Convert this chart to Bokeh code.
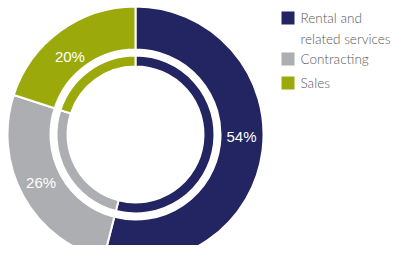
import math
from bokeh.plotting import figure
from bokeh.models import Range1d, ColumnDataSource
from bokeh.core.properties import value
from bokeh.embed import file_html
from bokeh.resources import INLINE

# ---- data ----
categories = ["Rental and\nrelated services", "Contracting", "Sales"]
shares = [54, 26, 20]
pct_labels = ["54%", "26%", "20%"]
colors = ["#232562", "#ADAEB1", "#9BAA0A"]

# ---- layout constants ----
W, H = 395, 245
cx, cy = 135, -134
outer_r = (85, 128)
inner_r = (68, 79)
label_angle = [-1, 207, 130]
label_radius = [106, 106, 102]

p = figure(width=W, height=H, x_range=Range1d(0, W), y_range=Range1d(-H, 0),
           output_backend="svg", toolbar_location=None,
           x_axis_location=None, y_axis_location=None, min_border=0,
           outline_line_color=None, background_fill_color="white")
p.grid.visible = False

total = sum(shares)
starts, ends = [], []
acc = 0
for s in shares:
    starts.append(math.radians(90 - acc / total * 360))
    acc += s
    ends.append(math.radians(90 - acc / total * 360))

src = ColumnDataSource(dict(start=starts, end=ends, color=colors))
for r0, r1 in (outer_r, inner_r):
    p.annular_wedge(x=cx, y=cy, inner_radius=r0, outer_radius=r1,
                    start_angle="start", end_angle="end", direction="clock",
                    fill_color="color", line_color="white", line_width=2, source=src)

lx = [cx + r * math.cos(math.radians(a)) for a, r in zip(label_angle, label_radius)]
ly = [cy + r * math.sin(math.radians(a)) for a, r in zip(label_angle, label_radius)]
p.text(x=lx, y=ly, text=pct_labels, text_color="white", text_font=value("Liberation Sans"),
       text_font_size="15px", text_align="center", text_baseline="middle")

# legend
sq_x, sq_size, txt_x = 287.5, 13, 300
row_gap, extra_line, line_h = 24, 17, 20.7
top = 11
sqx, sqy, tx, ty, tt = [], [], [], [], []
for i, cat in enumerate(categories):
    lines = cat.split("\n")
    sqx.append(sq_x)
    sqy.append(-(top + sq_size / 2))
    for k, ln in enumerate(lines):
        tx.append(txt_x)
        ty.append(-(top + sq_size / 2 + k * line_h))
        tt.append(ln)
    top += row_gap + extra_line * (len(lines) - 1)
p.rect(x=sqx, y=sqy, width=sq_size, height=sq_size, fill_color=colors, line_color=None)
p.text(x=tx, y=ty, text=tt, text_color="#58595B", text_font=value("Lato Light"),
       text_font_size="13.5px", text_align="left", text_baseline="middle")

open("out.html", "w").write(file_html(p, INLINE))
